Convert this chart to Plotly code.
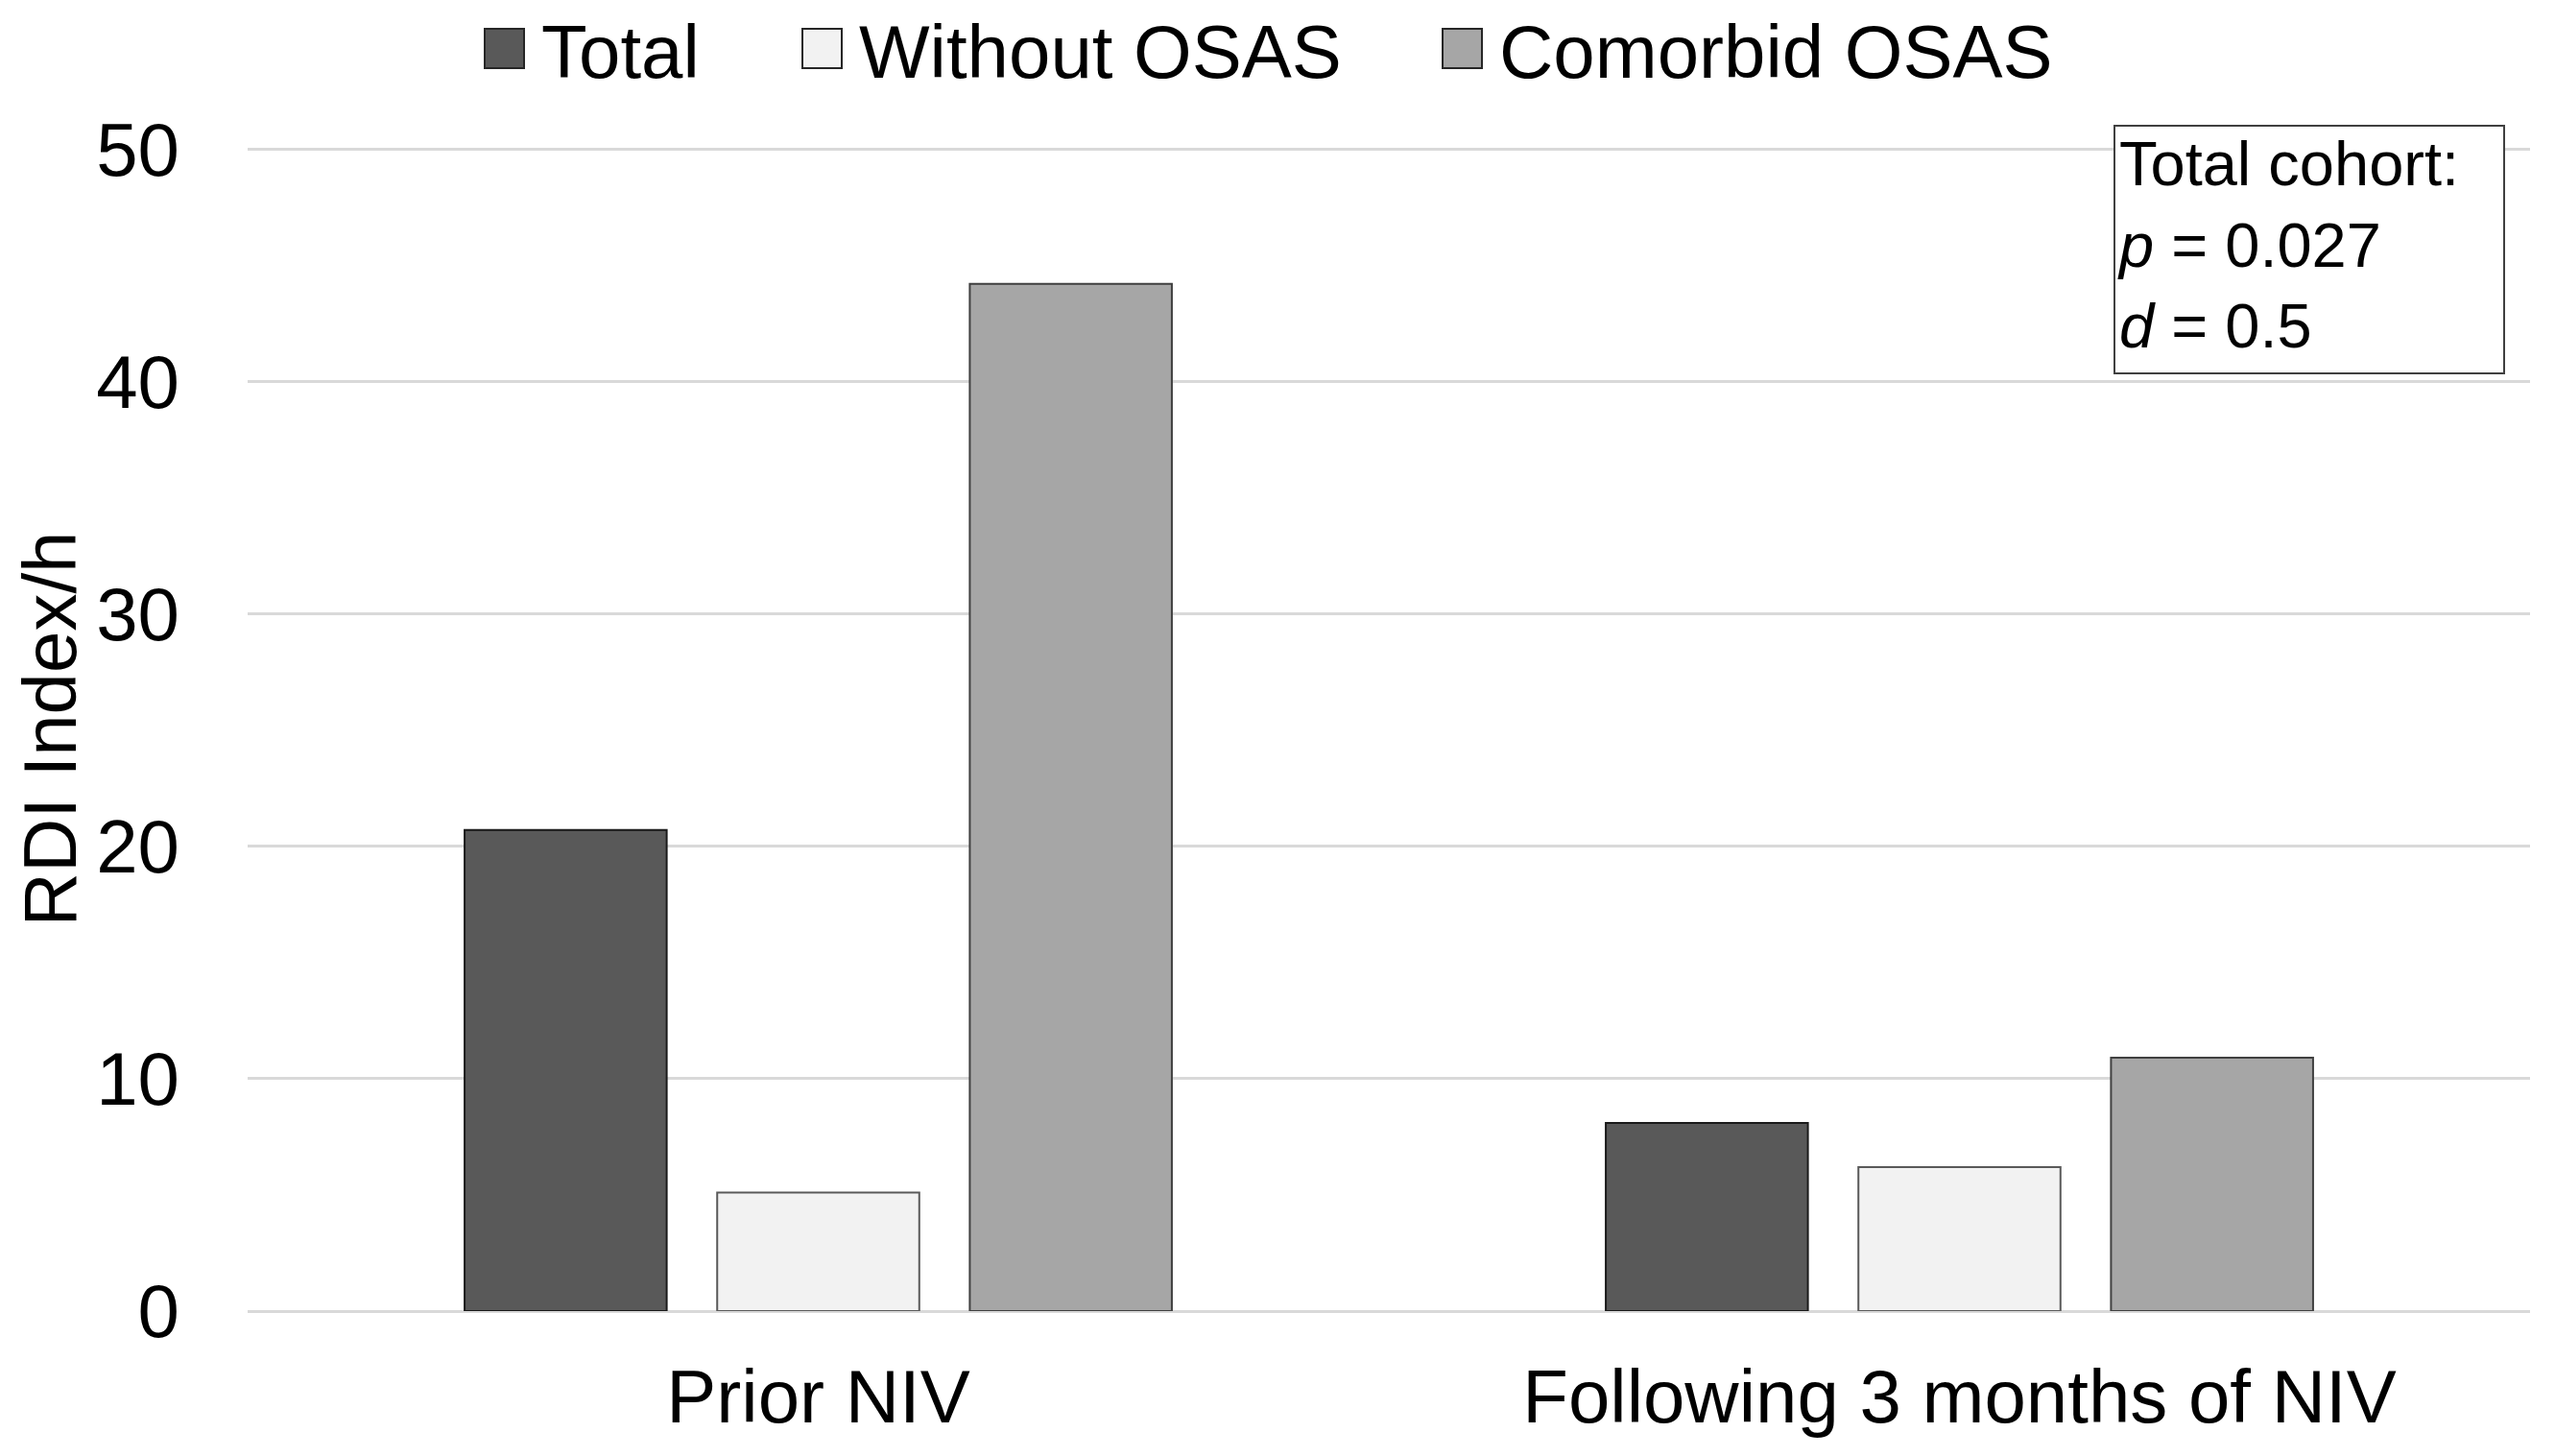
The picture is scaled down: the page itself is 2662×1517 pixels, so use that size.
import plotly.graph_objects as go

categories = ["Prior NIV", "Following 3 months of NIV"]
series_names = ["Total", "Without OSAS", "Comorbid OSAS"]
total_vals = [20.7, 8.1]
without_vals = [5.1, 6.2]
comorbid_vals = [44.2, 10.9]
y_ticks = [0, 10, 20, 30, 40, 50]

fills = ["#595959", "#f2f2f2", "#a6a6a6"]
edges = ["#1a1a1a", "#5a5a5a", "#404040"]

W, H = 2662, 1517
L, R = 250, 2628
T, B = 145, 1358
FONT = "Liberation Sans, Arial, sans-serif"

def px_x(p):
    return (p - L) / (R - L)

def px_y(p):
    return (B - p) / (B - T)

fig = go.Figure()
for name, vals, fc, ec in zip(series_names, [total_vals, without_vals, comorbid_vals], fills, edges):
    fig.add_trace(go.Bar(x=categories, y=vals, name=name,
                         marker=dict(color=fc, line=dict(color=ec, width=2)),
                         showlegend=False))

# manual legend (large swatches)
legend_sq_left = [497, 828, 1495]
sq = 41
shapes = []
annots = []
for name, left, fc, ec in zip(series_names, legend_sq_left, fills, edges):
    shapes.append(dict(type="rect", xref="paper", yref="paper",
                       x0=px_x(left), x1=px_x(left + sq),
                       y0=px_y(63), y1=px_y(22),
                       fillcolor=fc, line=dict(color="#262626", width=2)))
    annots.append(dict(xref="paper", yref="paper", x=px_x(left + sq + 16), y=px_y(46),
                       xanchor="left", yanchor="middle", showarrow=False,
                       text=name, font=dict(family=FONT, size=78, color="#000000")))

annots.append(dict(xref="paper", yref="paper", x=px_x(2194), y=px_y(122),
                   xanchor="left", yanchor="top", showarrow=False, align="left",
                   valign="top", width=400, height=252, borderpad=2,
                   bordercolor="#404040", borderwidth=2, bgcolor="#ffffff",
                   text="Total cohort:<br><i>p</i> = 0.027<br><i>d</i> = 0.5",
                   font=dict(family=FONT, size=65, color="#000000")))

fig.update_layout(
    width=W, height=H,
    margin=dict(l=L, r=W - R, t=T, b=H - B, pad=0),
    paper_bgcolor="#ffffff", plot_bgcolor="#ffffff",
    barmode="group", bargap=0.336, bargroupgap=0.2,
    font=dict(family=FONT, size=78, color="#000000"),
    shapes=shapes, annotations=annots,
    xaxis=dict(showgrid=False, showline=False, zeroline=False, ticks="",
               tickfont=dict(family=FONT, size=78, color="#000000"),
               ticklabelstandoff=37),
    yaxis=dict(range=[0, 50.1], tickvals=y_ticks, showgrid=True, gridcolor="#d9d9d9",
               gridwidth=3, zeroline=True, zerolinecolor="#d9d9d9", zerolinewidth=3,
               showline=False, ticks="", ticklabelstandoff=70,
               tickfont=dict(family=FONT, size=78, color="#000000"),
               title=dict(text="RDI Index/h", font=dict(family=FONT, size=78, color="#000000"),
                          standoff=24)),
)

fig.write_html("out.html")
